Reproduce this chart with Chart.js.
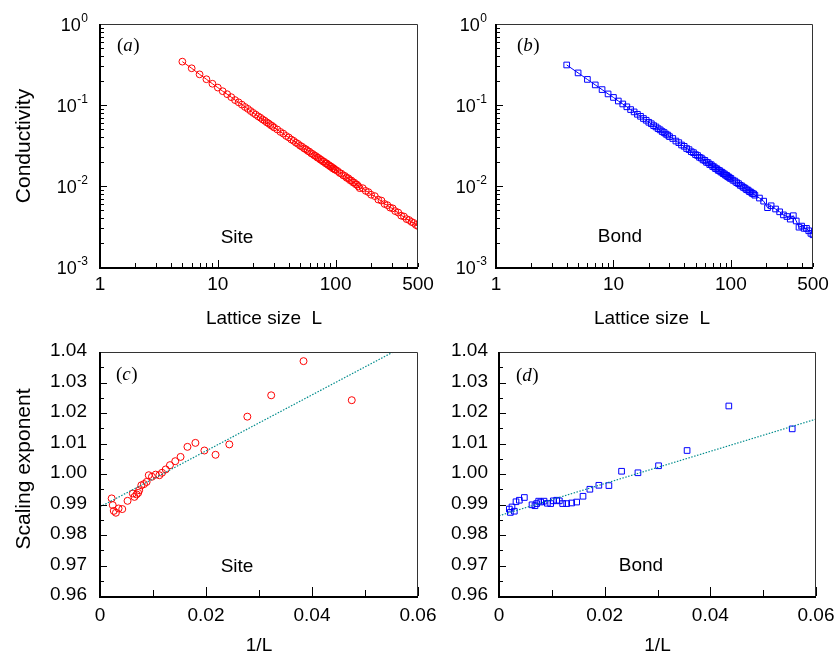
<!DOCTYPE html>
<html>
<head>
<meta charset="utf-8">
<script src="https://cdn.jsdelivr.net/npm/chart.js@4.4.0/dist/chart.umd.min.js"></script>
<style>
  body { margin: 0; background: #fff; }
  #wrap { position: relative; width: 837px; height: 659px; }
  #wrap canvas { position: absolute; left: 0; top: 0; }
</style>
</head>
<body>
<div id="wrap">
  <canvas id="pa" width="837" height="659"></canvas>
  <canvas id="pb" width="837" height="659"></canvas>
  <canvas id="pc" width="837" height="659"></canvas>
  <canvas id="pd" width="837" height="659"></canvas>
</div>
<script>
// conductivity vs lattice size, site percolation
const siteL = [5,6,7,8,9,10,11,12,13,14,15,16,17,18,19,20,21,22,23,24,25,26,27,28,29,30,
  32,34,36,38,40,42,44,46,48,50,52,54,56,58,60,62,64,66,68,70,72,74,76,78,80,82,84,86,88,90,
  92,94,96,98,100,104,108,112,116,120,124,128,132,136,140,144,148,152,156,160,170,180,190,200,
  215,230,245,260,275,290,305,320,340,360,380,400,420,440,460,480,500];
const siteSigma = [0.343,0.284,0.239,0.208,0.183,0.164,0.148,0.136,0.125,0.115,0.108,0.101,0.0945,
  0.0895,0.0842,0.0798,0.0760,0.0724,0.0696,0.0663,0.0640,0.0611,0.0592,0.0566,0.0551,0.0528,
  0.0498,0.0465,0.0443,0.0415,0.0398,0.0375,0.0361,0.0342,0.0331,0.0314,0.0305,0.0291,0.0284,
  0.0271,0.0265,0.0253,0.0248,0.0238,0.0234,0.0224,0.0221,0.0212,0.0209,0.0201,0.0199,0.0191,
  0.0190,0.0182,0.0181,0.0174,0.0173,0.0166,0.0166,0.0160,0.0158,0.0153,0.0145,0.0142,0.0135,
  0.0133,0.0126,0.0125,0.0118,0.0117,0.0111,0.0110,0.0105,0.0104,0.0099,0.0094,0.0094,0.0087,
  0.0084,0.0078,0.0075,0.0068,0.0066,0.0060,0.0058,0.0054,0.0053,0.0049,0.0047,0.0043,0.0042,
  0.0039,0.0038,0.0036,0.0035,0.0033,0.0032];

// conductivity vs lattice size, bond percolation
const bondL = [4,5,6,7,8,9,10,11,12,13,14,15,16,17,18,19,20,21,22,23,24,25,26,27,28,29,30,
  32,34,36,38,40,42,44,46,48,50,52,54,56,58,60,62,64,66,68,70,72,74,76,78,80,82,84,86,88,90,
  92,94,96,98,100,104,108,112,116,120,124,128,132,136,140,144,148,152,156,160,175,190,205,220,
  240,260,280,300,320,340,360,380,400,420,440,460,480,500];
const bondSigma = [0.312,0.249,0.207,0.177,0.155,0.137,0.124,0.112,0.103,0.0950,0.0878,0.0822,
  0.0768,0.0725,0.0681,0.0648,0.0612,0.0587,0.0556,0.0536,0.0510,0.0493,0.0470,0.0457,0.0437,
  0.0425,0.0407,0.0386,0.0359,0.0343,0.0321,0.0309,0.0290,0.0281,0.0265,0.0258,0.0244,0.0238,
  0.0226,0.0221,0.0210,0.0207,0.0196,0.0194,0.0184,0.0183,0.0174,0.0172,0.0164,0.0163,0.0156,
  0.0155,0.0149,0.0148,0.0142,0.0141,0.0136,0.0135,0.0130,0.0129,0.0125,0.0124,0.0118,0.0115,
  0.0110,0.0107,0.0102,0.0100,0.0096,0.0094,0.0090,0.0089,0.0085,0.0084,0.0081,0.0080,0.0077,
  0.0071,0.0065,0.0054,0.0057,0.0052,0.0048,0.0044,0.0042,0.0039,0.0043,0.0037,0.0031,0.0032,
  0.0030,0.0030,0.0028,0.0026,0.0025];

// local scaling exponent vs 1/L
const siteInvL = [0.0022,0.0024,0.0026,0.0030,0.0035,0.0042,0.0052,0.0062,0.0065,0.0069,0.0072,
  0.0074,0.0078,0.0083,0.0088,0.0092,0.0098,0.0105,0.0112,0.0117,0.0124,0.0132,0.0142,0.0152,
  0.0165,0.0180,0.0197,0.0218,0.0244,0.0278,0.0323,0.0384,0.0475];
const siteExp = [0.9920,0.9898,0.9879,0.9873,0.9887,0.9885,0.9912,0.9936,0.9925,0.9933,0.9938,
  0.9947,0.9963,0.9967,0.9974,0.9996,0.9991,0.9998,0.9996,1.0004,1.0015,1.0029,1.0042,1.0056,
  1.0089,1.0102,1.0077,1.0063,1.0097,1.0188,1.0258,1.0370,1.0242];
const bondInvL = [0.00196,0.00215,0.00246,0.00290,0.00322,0.00385,0.00480,0.00625,0.00681,
  0.00713,0.00751,0.00789,0.00852,0.00915,0.00978,0.01028,0.01091,0.01142,0.01205,0.01281,
  0.01375,0.01470,0.0159,0.0172,0.0189,0.0208,0.0232,0.0263,0.0302,0.0356,0.0435,0.0555];
const bondExp = [0.9885,0.9874,0.9892,0.9878,0.9909,0.9914,0.9923,0.9899,0.9896,0.9903,0.9911,
  0.9908,0.9911,0.9904,0.9903,0.9912,0.9914,0.9912,0.9903,0.9903,0.9905,0.9908,0.9927,0.9950,
  0.9963,0.9962,1.0009,1.0004,1.0027,1.0077,1.0223,1.0148];

// straight-line fits (end points)
const fitX = [0, 0.06];
const siteFitY = [0.9892, 1.0443];
const bondFitY = [0.9863, 1.0180];

// tick labels
const logXTicks = [1, 10, 100, 500];
const logXLabels = ['1', '10', '100', '500'];
const logYTicks = [0.001, 0.01, 0.1, 1];
const logYExps = ['-3', '-2', '-1', '0'];
const linXTicks = [0, 0.02, 0.04, 0.06];
const linXLabels = ['0', '0.02', '0.04', '0.06'];
const linYTicks = [0.96, 0.97, 0.98, 0.99, 1.00, 1.01, 1.02, 1.03, 1.04];
const linYLabels = ['0.96', '0.97', '0.98', '0.99', '1.00', '1.01', '1.02', '1.03', '1.04'];

const SANS = "'Liberation Sans', Arial, Helvetica, sans-serif";
const SERIF = "'Liberation Serif', 'Times New Roman', serif";
const W = 837, H = 659;

const pts = (xs, ys) => xs.map((x, i) => ({ x, y: ys[i] }));

// inward tick marks for log and linear axes
function logMarks(min, max) {
  const out = [];
  for (let d = 1e-4; d <= 1000; d *= 10) {
    for (let k = 1; k <= 9; k++) {
      const v = +(k * d).toPrecision(3);
      if (v >= min && v <= max) out.push([v, k === 1 ? 7 : 4]);
    }
  }
  return out;
}
function linMarks(min, max, step, majorEvery, major, minor) {
  const out = [];
  const n = Math.round((max - min) / step);
  for (let i = 0; i <= n; i++) out.push([min + i * step, i % majorEvery === 0 ? major : minor]);
  return out;
}

const axesDeco = {
  id: 'axesDeco',
  afterDraw(chart, args, o) {
    const { ctx, chartArea: a } = chart;
    const xs = chart.scales.x, ys = chart.scales.y;
    ctx.save();
    ctx.strokeStyle = '#000';
    ctx.lineWidth = 1;
    for (const [v, len] of o.xMarks) {
      const px = Math.round(xs.getPixelForValue(v)) + 0.5;
      ctx.beginPath(); ctx.moveTo(px, a.bottom); ctx.lineTo(px, a.bottom - len); ctx.stroke();
    }
    for (const [v, len] of o.yMarks) {
      const py = Math.round(ys.getPixelForValue(v)) + 0.5;
      ctx.beginPath(); ctx.moveTo(a.left, py); ctx.lineTo(a.left + len, py); ctx.stroke();
    }
    // light top/right edges, heavy left/bottom axes
    ctx.strokeStyle = '#333';
    ctx.beginPath();
    ctx.moveTo(a.left, a.top + 0.5); ctx.lineTo(a.right - 0.5, a.top + 0.5); ctx.lineTo(a.right - 0.5, a.bottom);
    ctx.stroke();
    ctx.strokeStyle = '#000';
    ctx.lineWidth = 2;
    ctx.beginPath();
    ctx.moveTo(a.left, a.top); ctx.lineTo(a.left, a.bottom + 1); ctx.lineTo(a.right, a.bottom + 1);
    ctx.stroke();

    ctx.fillStyle = '#000';
    // x tick labels
    ctx.font = '19px ' + SANS;
    ctx.textAlign = 'center';
    ctx.textBaseline = 'alphabetic';
    o.xTicks.forEach((v, i) => ctx.fillText(o.xLabels[i], xs.getPixelForValue(v), a.bottom + o.xLabelGap));

    // y tick labels
    if (o.logY) {
      o.yTicks.forEach((v, i) => {
        const py = ys.getPixelForValue(v);
        ctx.font = '12px ' + SANS;
        const we = ctx.measureText(o.yExps[i]).width;
        ctx.textAlign = 'left';
        ctx.fillText(o.yExps[i], o.yLabelRight - we, py - 2);
        ctx.font = '18px ' + SANS;
        ctx.textAlign = 'right';
        ctx.fillText('10', o.yLabelRight - we - 0.5, py + 6.5);
      });
    } else {
      ctx.font = '19px ' + SANS;
      ctx.textAlign = 'right';
      o.yTicks.forEach((v, i) => ctx.fillText(o.yLabels[i], o.yLabelRight, ys.getPixelForValue(v) + 4));
    }

    // axis titles
    ctx.font = '19px ' + SANS;
    ctx.textAlign = 'center';
    ctx.fillText(o.xTitle, o.xTitleX, o.xTitleY);
    if (o.yTitle) {
      ctx.save();
      ctx.translate(o.yTitleX, o.yTitleY);
      ctx.rotate(-Math.PI / 2);
      ctx.font = '21px ' + SANS;
      ctx.fillText(o.yTitle, 0, 0);
      ctx.restore();
    }

    // in-panel annotations
    ctx.font = '19px ' + SANS;
    ctx.textAlign = 'center';
    ctx.fillText(o.note, o.noteX, o.noteY);
    ctx.textAlign = 'left';
    let tx = o.tagX;
    ctx.font = '19px ' + SERIF;
    ctx.fillText('(', tx, o.tagY); tx += ctx.measureText('(').width;
    ctx.font = 'italic 19px ' + SERIF;
    ctx.fillText(o.tag, tx, o.tagY); tx += ctx.measureText(o.tag).width + 0.5;
    ctx.font = '19px ' + SERIF;
    ctx.fillText(')', tx, o.tagY);
    ctx.restore();
  }
};

function panel(id, area, datasets, scales, deco) {
  return new Chart(document.getElementById(id), {
    type: 'scatter',
    data: { datasets },
    options: {
      responsive: false,
      animation: false,
      devicePixelRatio: 1,
      events: [],
      layout: { padding: { left: area[0], top: area[1], right: W - area[2], bottom: H - area[3] } },
      plugins: { legend: { display: false }, tooltip: { enabled: false }, axesDeco: deco },
      scales: {
        x: Object.assign({ display: false }, scales.x),
        y: Object.assign({ display: false }, scales.y)
      }
    },
    plugins: [axesDeco]
  });
}

const RED = 'rgb(255,0,0)', BLUE = 'rgb(0,0,255)', TEAL = 'rgb(0,140,140)';
const logScales = {
  x: { type: 'logarithmic', min: 1, max: 500 },
  y: { type: 'logarithmic', min: 0.001, max: 1 }
};
const linScales = {
  x: { type: 'linear', min: 0, max: 0.06 },
  y: { type: 'linear', min: 0.96, max: 1.04 }
};
const logDeco = {
  xMarks: logMarks(1, 500), yMarks: logMarks(0.001, 1),
  xTicks: logXTicks, xLabels: logXLabels, xLabelGap: 22.5,
  logY: true, yTicks: logYTicks, yExps: logYExps,
  xTitle: 'Lattice size  L', xTitleY: 324
};
const linDeco = {
  xMarks: linMarks(0, 0.06, 0.01, 2, 9, 6), yMarks: linMarks(0.96, 1.04, 0.005, 2, 7, 4),
  xTicks: linXTicks, xLabels: linXLabels, xLabelGap: 25,
  logY: false, yTicks: linYTicks, yLabels: linYLabels,
  xTitle: '1/L', xTitleY: 651
};

function sizeSeries(xs, ys, color, style, r) {
  return {
    data: pts(xs, ys), showLine: true, borderColor: color, borderWidth: 1,
    pointStyle: style, pointRadius: r, pointBorderWidth: 1,
    pointBorderColor: color, pointBackgroundColor: 'rgba(0,0,0,0)'
  };
}
function expSeries(xs, ys, color, style, r) {
  return {
    data: pts(xs, ys), showLine: false, pointStyle: style, pointRadius: r,
    pointBorderWidth: 1, pointBorderColor: color, pointBackgroundColor: 'rgba(0,0,0,0)'
  };
}
function fitSeries(ys) {
  return {
    data: pts(fitX, ys), showLine: true, borderColor: TEAL, borderWidth: 1.2,
    borderDash: [1.5, 1.5], pointRadius: 0
  };
}

panel('pa', [100, 24, 418, 267], [sizeSeries(siteL, siteSigma, RED, 'circle', 3.4)], logScales,
  Object.assign({}, logDeco, {
    yLabelRight: 88, xTitleX: 264, yTitle: 'Conductivity', yTitleX: 30, yTitleY: 146,
    note: 'Site', noteX: 237, noteY: 243, tag: 'a', tagX: 117, tagY: 51
  }));

panel('pb', [496, 24, 813, 267], [sizeSeries(bondL, bondSigma, BLUE, 'rect', 4)], logScales,
  Object.assign({}, logDeco, {
    yLabelRight: 487, xTitleX: 652, yTitle: null,
    note: 'Bond', noteX: 620, noteY: 242, tag: 'b', tagX: 517, tagY: 51
  }));

panel('pc', [100, 352, 418, 596], [fitSeries(siteFitY), expSeries(siteInvL, siteExp, RED, 'circle', 3.5)], linScales,
  Object.assign({}, linDeco, {
    yLabelRight: 87, xTitleX: 259, yTitle: 'Scaling exponent', yTitleX: 30, yTitleY: 469,
    note: 'Site', noteX: 237, noteY: 572, tag: 'c', tagX: 116, tagY: 380
  }));

panel('pd', [499, 352, 816, 596], [fitSeries(bondFitY), expSeries(bondInvL, bondExp, BLUE, 'rect', 4)], linScales,
  Object.assign({}, linDeco, {
    yLabelRight: 488, xTitleX: 657.5, yTitle: null,
    note: 'Bond', noteX: 641, noteY: 571, tag: 'd', tagX: 516, tagY: 381
  }));
</script>
</body>
</html>
